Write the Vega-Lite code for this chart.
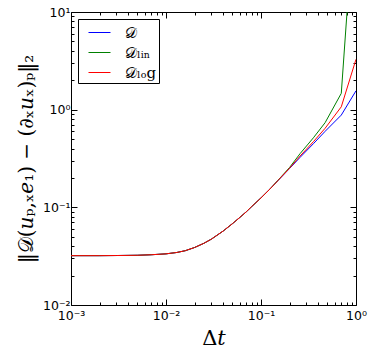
{
  "$schema": "https://vega.github.io/schema/vega-lite/v6.json",
  "width": 285,
  "height": 293,
  "autosize": "none",
  "padding": {"left": 71, "top": 12, "right": 18, "bottom": 49},
  "background": "white",
  "config": {
    "view": {"stroke": "black", "strokeWidth": 1},
    "axis": {
      "grid": false,
      "domain": false,
      "tickColor": "black",
      "tickWidth": 1,
      "labelFont": "DejaVu Sans",
      "labelFontSize": 12.5,
      "labelColor": "black",
      "labelOverlap": false,
      "labelBound": false,
      "labelFlush": false,
      "titleColor": "black",
      "titleFont": "DejaVu Serif",
      "titleFontStyle": "normal",
      "titleFontWeight": "normal"
    },
    "legend": {
      "orient": "top-left",
      "offset": 7,
      "strokeColor": "black",
      "fillColor": "white",
      "padding": 2,
      "symbolType": "stroke",
      "symbolSize": 484,
      "symbolStrokeWidth": 1,
      "symbolOffset": 8,
      "labelOffset": 14,
      "labelFont": "DejaVu Serif",
      "labelFontStyle": "normal",
      "labelFontSize": 15,
      "labelColor": "black",
      "rowPadding": 0,
      "cornerRadius": 0
    }
  },
  "data": {
    "values": [
      {"dt": 0.001, "err": 0.032, "method": "D"},
      {"dt": 0.002, "err": 0.032, "method": "D"},
      {"dt": 0.003, "err": 0.0321, "method": "D"},
      {"dt": 0.005, "err": 0.0323, "method": "D"},
      {"dt": 0.007, "err": 0.0327, "method": "D"},
      {"dt": 0.01, "err": 0.0334, "method": "D"},
      {"dt": 0.013, "err": 0.0345, "method": "D"},
      {"dt": 0.016, "err": 0.036, "method": "D"},
      {"dt": 0.02, "err": 0.0388, "method": "D"},
      {"dt": 0.025, "err": 0.0428, "method": "D"},
      {"dt": 0.03, "err": 0.0472, "method": "D"},
      {"dt": 0.04, "err": 0.0572, "method": "D"},
      {"dt": 0.05, "err": 0.068, "method": "D"},
      {"dt": 0.06, "err": 0.079, "method": "D"},
      {"dt": 0.07, "err": 0.09, "method": "D"},
      {"dt": 0.08, "err": 0.102, "method": "D"},
      {"dt": 0.1, "err": 0.125, "method": "D"},
      {"dt": 0.125, "err": 0.155, "method": "D"},
      {"dt": 0.15, "err": 0.187, "method": "D"},
      {"dt": 0.2, "err": 0.25, "method": "D"},
      {"dt": 0.258, "err": 0.325, "method": "D"},
      {"dt": 0.356, "err": 0.448, "method": "D"},
      {"dt": 0.473, "err": 0.6, "method": "D"},
      {"dt": 0.7, "err": 0.88, "method": "D"},
      {"dt": 1.0, "err": 1.56, "method": "D"},
      {"dt": 0.001, "err": 0.032, "method": "D_lin"},
      {"dt": 0.002, "err": 0.032, "method": "D_lin"},
      {"dt": 0.003, "err": 0.0321, "method": "D_lin"},
      {"dt": 0.005, "err": 0.0323, "method": "D_lin"},
      {"dt": 0.007, "err": 0.0327, "method": "D_lin"},
      {"dt": 0.01, "err": 0.0334, "method": "D_lin"},
      {"dt": 0.013, "err": 0.0345, "method": "D_lin"},
      {"dt": 0.016, "err": 0.036, "method": "D_lin"},
      {"dt": 0.02, "err": 0.0388, "method": "D_lin"},
      {"dt": 0.025, "err": 0.0428, "method": "D_lin"},
      {"dt": 0.03, "err": 0.0472, "method": "D_lin"},
      {"dt": 0.04, "err": 0.0572, "method": "D_lin"},
      {"dt": 0.05, "err": 0.068, "method": "D_lin"},
      {"dt": 0.06, "err": 0.079, "method": "D_lin"},
      {"dt": 0.07, "err": 0.09, "method": "D_lin"},
      {"dt": 0.08, "err": 0.102, "method": "D_lin"},
      {"dt": 0.1, "err": 0.125, "method": "D_lin"},
      {"dt": 0.125, "err": 0.155, "method": "D_lin"},
      {"dt": 0.15, "err": 0.188, "method": "D_lin"},
      {"dt": 0.2, "err": 0.256, "method": "D_lin"},
      {"dt": 0.258, "err": 0.355, "method": "D_lin"},
      {"dt": 0.356, "err": 0.515, "method": "D_lin"},
      {"dt": 0.473, "err": 0.736, "method": "D_lin"},
      {"dt": 0.7, "err": 1.47, "method": "D_lin"},
      {"dt": 1.0, "err": 200, "method": "D_lin"},
      {"dt": 0.001, "err": 0.032, "method": "D_log"},
      {"dt": 0.002, "err": 0.032, "method": "D_log"},
      {"dt": 0.003, "err": 0.0321, "method": "D_log"},
      {"dt": 0.005, "err": 0.0323, "method": "D_log"},
      {"dt": 0.007, "err": 0.0327, "method": "D_log"},
      {"dt": 0.01, "err": 0.0334, "method": "D_log"},
      {"dt": 0.013, "err": 0.0345, "method": "D_log"},
      {"dt": 0.016, "err": 0.036, "method": "D_log"},
      {"dt": 0.02, "err": 0.0388, "method": "D_log"},
      {"dt": 0.025, "err": 0.0428, "method": "D_log"},
      {"dt": 0.03, "err": 0.0472, "method": "D_log"},
      {"dt": 0.04, "err": 0.0572, "method": "D_log"},
      {"dt": 0.05, "err": 0.068, "method": "D_log"},
      {"dt": 0.06, "err": 0.079, "method": "D_log"},
      {"dt": 0.07, "err": 0.09, "method": "D_log"},
      {"dt": 0.08, "err": 0.102, "method": "D_log"},
      {"dt": 0.1, "err": 0.125, "method": "D_log"},
      {"dt": 0.125, "err": 0.155, "method": "D_log"},
      {"dt": 0.15, "err": 0.187, "method": "D_log"},
      {"dt": 0.2, "err": 0.252, "method": "D_log"},
      {"dt": 0.258, "err": 0.335, "method": "D_log"},
      {"dt": 0.356, "err": 0.47, "method": "D_log"},
      {"dt": 0.473, "err": 0.645, "method": "D_log"},
      {"dt": 0.7, "err": 1.07, "method": "D_log"},
      {"dt": 1.0, "err": 3.28, "method": "D_log"}
    ]
  },
  "layer": [
    {
      "mark": {"type": "line", "strokeWidth": 1, "clip": true},
      "encoding": {
        "x": {
          "field": "dt", "type": "quantitative",
          "scale": {"type": "log", "domain": [0.001, 1], "nice": false},
          "axis": {
            "orient": "bottom",
            "title": "Δ𝑡",
            "titleFontSize": 21,
            "titlePadding": 3,
            "values": [0.001,0.002,0.003,0.004,0.005,0.006,0.007,0.008,0.009,0.01,0.02,0.03,0.04,0.05,0.06,0.07,0.08,0.09,0.1,0.2,0.3,0.4,0.5,0.6,0.7,0.8,0.9,1],
            "tickSize": {"condition": {"test": "abs(log(datum.value)/LN10 - round(log(datum.value)/LN10)) < 0.001", "value": -6}, "value": -3},
            "labelPadding": 10,
            "labelExpr": "abs(log(datum.value)/LN10 - round(log(datum.value)/LN10)) < 0.001 ? ({'-3':'10⁻³','-2':'10⁻²','-1':'10⁻¹','0':'10⁰','1':'10¹'})['' + round(log(datum.value)/LN10)] : ''"
          }
        },
        "y": {
          "field": "err", "type": "quantitative",
          "scale": {"type": "log", "domain": [0.01, 10], "nice": false},
          "axis": {
            "orient": "left",
            "title": "‖𝒟(𝑢ₚ,ₓ𝑒₁) − (∂ₓ𝑢ₓ)ₚ‖₂",
            "titleFontSize": 20,
            "titlePadding": 6,
            "values": [0.01,0.02,0.03,0.04,0.05,0.06,0.07,0.08,0.09,0.1,0.2,0.3,0.4,0.5,0.6,0.7,0.8,0.9,1,2,3,4,5,6,7,8,9,10],
            "tickSize": {"condition": {"test": "abs(log(datum.value)/LN10 - round(log(datum.value)/LN10)) < 0.001", "value": -6}, "value": -3},
            "labelPadding": 7,
            "labelExpr": "abs(log(datum.value)/LN10 - round(log(datum.value)/LN10)) < 0.001 ? ({'-3':'10⁻³','-2':'10⁻²','-1':'10⁻¹','0':'10⁰','1':'10¹'})['' + round(log(datum.value)/LN10)] : ''"
          }
        },
        "color": {
          "field": "method", "type": "nominal",
          "scale": {"domain": ["D", "D_lin", "D_log"], "range": ["#0000ff", "#008000", "#ff0000"]},
          "legend": {
            "title": null,
            "labelExpr": "datum.label == 'D' ? '𝒟' : datum.label == 'D_lin' ? '𝒟ₗᵢₙ' : '𝒟ₗₒg'"
          }
        }
      }
    },
    {
      "mark": {"type": "line", "strokeWidth": 1, "opacity": 0, "clip": true},
      "encoding": {
        "x": {
          "field": "dt", "type": "quantitative",
          "scale": {"type": "log", "domain": [0.001, 1], "nice": false},
          "axis": {
            "orient": "top", "title": null, "labels": false,
            "values": [0.001,0.002,0.003,0.004,0.005,0.006,0.007,0.008,0.009,0.01,0.02,0.03,0.04,0.05,0.06,0.07,0.08,0.09,0.1,0.2,0.3,0.4,0.5,0.6,0.7,0.8,0.9,1],
            "tickSize": {"condition": {"test": "abs(log(datum.value)/LN10 - round(log(datum.value)/LN10)) < 0.001", "value": -6}, "value": -3}
          }
        },
        "y": {
          "field": "err", "type": "quantitative",
          "scale": {"type": "log", "domain": [0.01, 10], "nice": false},
          "axis": {
            "orient": "right", "title": null, "labels": false,
            "values": [0.01,0.02,0.03,0.04,0.05,0.06,0.07,0.08,0.09,0.1,0.2,0.3,0.4,0.5,0.6,0.7,0.8,0.9,1,2,3,4,5,6,7,8,9,10],
            "tickSize": {"condition": {"test": "abs(log(datum.value)/LN10 - round(log(datum.value)/LN10)) < 0.001", "value": -6}, "value": -3}
          }
        },
        "detail": {"field": "method", "type": "nominal"}
      }
    }
  ],
  "resolve": {"axis": {"x": "independent", "y": "independent"}}
}
